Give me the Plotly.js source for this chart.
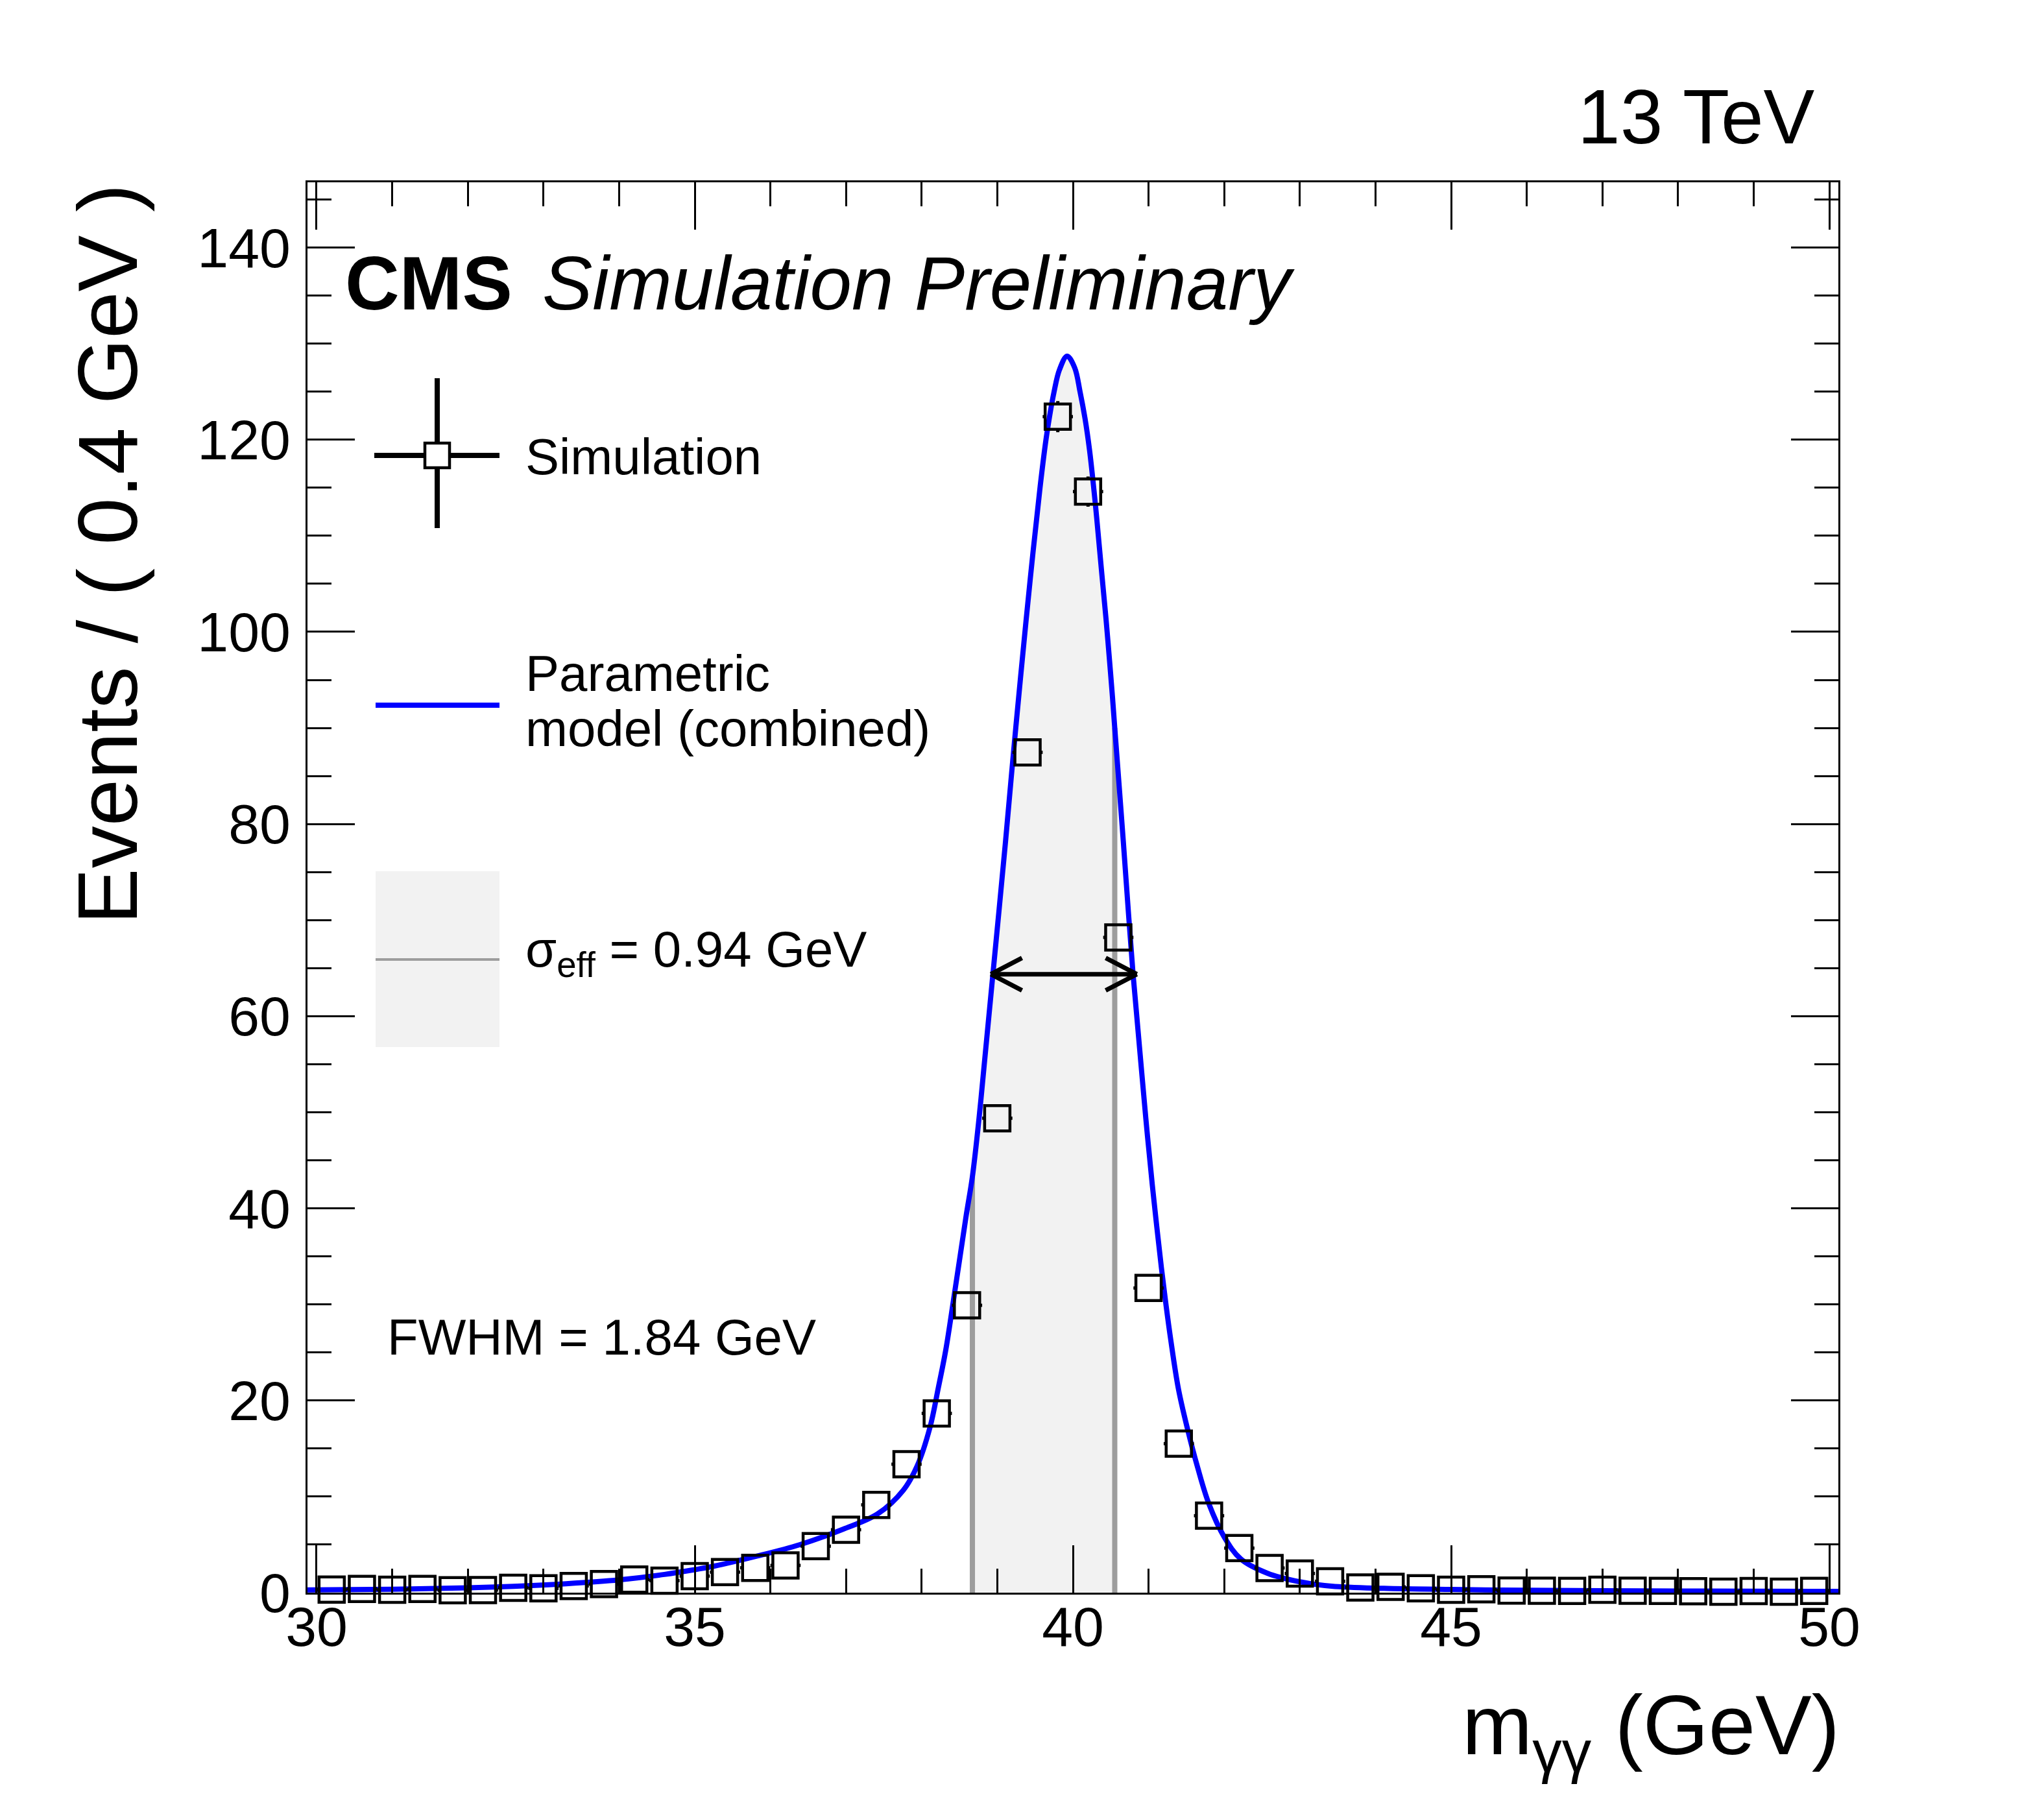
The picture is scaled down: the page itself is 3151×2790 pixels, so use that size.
<!DOCTYPE html>
<html><head><meta charset="utf-8">
<script src="https://cdn.plot.ly/plotly-3.0.1.min.js"></script>
<style>html,body{margin:0;padding:0;background:#fff}</style>
</head><body><div id="chart" style="width:3151px;height:2790px"></div>
<script>
// ---------------- data ----------------
const binCenters = [30.2,30.6,31.0,31.4,31.8,32.2,32.6,33.0,33.4,33.8,
  34.2,34.6,35.0,35.4,35.8,36.2,36.6,37.0,37.4,37.8,
  38.2,38.6,39.0,39.4,39.8,40.2,40.6,41.0,41.4,41.8,
  42.2,42.6,43.0,43.4,43.8,44.2,44.6,45.0,45.4,45.8,
  46.2,46.6,47.0,47.4,47.8,48.2,48.6,49.0,49.4,49.8];
const simEvents = [0.32,0.39,0.30,0.39,0.25,0.27,0.50,0.45,0.70,0.89,
  1.36,1.25,1.73,2.14,2.59,2.84,4.84,6.55,9.14,13.37,
  18.66,29.91,49.38,87.46,122.4,114.6,68.2,31.71,15.51,8.01,
  4.64,2.57,2.0,1.19,0.54,0.6,0.45,0.3,0.35,0.22,
  0.2,0.18,0.3,0.2,0.18,0.15,0.1,0.17,0.1,0.19];
const simErrors = [0.08,0.09,0.08,0.09,0.07,0.08,0.10,0.10,0.12,0.14,
  0.17,0.16,0.19,0.21,0.24,0.25,0.32,0.37,0.44,0.53,
  0.63,0.80,1.03,1.37,1.62,1.57,1.21,0.82,0.58,0.41,
  0.32,0.23,0.21,0.16,0.11,0.11,0.10,0.08,0.09,0.07,
  0.07,0.06,0.08,0.07,0.06,0.06,0.05,0.06,0.05,0.06];
const binHalfWidth = 0.2;

const modelMass = [29.88,31.0,32.0,32.6,33.3,34.0,34.6,35.0,35.25,35.82,
  36.39,36.96,37.42,37.76,37.94,38.11,38.22,38.32,38.42,
  38.51,38.59,38.671,38.759,38.828,38.942,39.108,39.208,
  39.308,39.437,39.565,39.651,39.751,39.823,39.923,40.023,
  40.094,40.16,40.22,40.28,40.315,40.38,40.437,40.48,40.523,40.553,40.609,
  40.666,40.795,40.909,40.98,41.05,41.11,41.17,41.23,41.29,41.395,
  41.51,41.65,41.795,42.0,42.22,42.57,43.0,43.42,44.11,45.0,
  46.0,47.0,48.0,49.0,50.12];
const modelEvents = [0.28,0.36,0.5,0.66,0.93,1.33,1.9,2.4,2.75,3.8,
  5.0,6.6,8.21,10.69,13.17,17.2,21.3,25.3,30.4,
  35.1,39.3,43.3,49.4,55.0,64.37,78.1,86.9,
  95.3,105.6,115.0,120.4,125.0,127.3,128.7,127.5,
  125.0,122.2,118.9,114.6,111.8,106.2,101.4,97.4,93.2,90.0,84.2,
  78.2,64.4,54.2,48.0,42.4,38.0,33.8,30.0,26.5,21.2,
  17.2,13.0,9.3,5.8,3.5,2.03,1.13,0.68,0.45,0.33,
  0.25,0.2,0.17,0.15,0.13];

const sigmaEffRange = [38.671, 40.553];
const fwhmRange = [38.915, 40.845];
const fwhmHalfMax = 64.37;

const xTickStep = 5, xMinorStep = 1, yTickStep = 20, yMinorStep = 5;
const legendLabels = ["Simulation", "Parametric", "model (combined)", "σ<sub>eff</sub> = 0.94 GeV"];
const fwhmLabel = "FWHM = 1.84 GeV";

// ---------------- layout geometry ----------------
const FW = 3151, FH = 2790;
const L = 474, T = 281, R = 2834, B = 2455;
const W = R - L, H = B - T;
const xRange = [29.88, 50.12];
const yRange = [0, 146.79];
const pxPerX = W / (xRange[1] - xRange[0]);
const pxPerY = H / (yRange[1] - yRange[0]);
const px = x => (x - L) / W;
const py = y => (B - y) / H;
const FONT = "Liberation Sans, Arial, Helvetica, sans-serif";

// ---------------- traces ----------------
const bandX = [], bandY = [];
modelMass.forEach((m, i) => { if (m >= sigmaEffRange[0] && m <= sigmaEffRange[1]) { bandX.push(m); bandY.push(modelEvents[i]); } });
const yAtLo = modelEvents[modelMass.indexOf(sigmaEffRange[0])];
const yAtHi = modelEvents[modelMass.indexOf(sigmaEffRange[1])];

const bandTrace = { x: bandX, y: bandY, type: 'scatter', mode: 'lines', fill: 'tozeroy',
  fillcolor: '#f2f2f2', line: { width: 0, shape: 'spline', smoothing: 1 }, hoverinfo: 'skip', showlegend: false };
const edgeTrace = { x: [sigmaEffRange[0], sigmaEffRange[0], null, sigmaEffRange[1], sigmaEffRange[1]],
  y: [0, yAtLo, null, 0, yAtHi], type: 'scatter', mode: 'lines',
  line: { color: '#9d9d9d', width: 8 }, showlegend: false, hoverinfo: 'skip' };
const curveTrace = { x: modelMass, y: modelEvents, type: 'scatter', mode: 'lines',
  line: { color: '#0000ff', width: 8, shape: 'spline', smoothing: 1 }, cliponaxis: false, showlegend: false };

// error tabs outside the open markers
const MS = 39, MLW = 4.5;
const gapX = (MS / 2) / pxPerX, gapY = (MS / 2) / pxPerY;
const tabX = [], tabY = [];
binCenters.forEach((c, i) => {
  const v = simEvents[i], e = simErrors[i];
  tabX.push(c - binHalfWidth, c - gapX, null, c + gapX, c + binHalfWidth, null);
  tabY.push(v, v, null, v, v, null);
  if (e > gapY) {
    tabX.push(c, c, null, c, c, null);
    tabY.push(v + gapY, v + e, null, v - gapY, v - e, null);
  }
});
const tabTrace = { x: tabX, y: tabY, type: 'scatter', mode: 'lines', line: { color: '#000', width: 5 },
  cliponaxis: false, showlegend: false, hoverinfo: 'skip' };
const pointTrace = { x: binCenters, y: simEvents, type: 'scatter', mode: 'markers', cliponaxis: false,
  marker: { symbol: 'square-open', size: MS, color: '#000', line: { width: MLW, color: '#000' } }, showlegend: false };

// ---------------- shapes ----------------
const shapes = [];
// FWHM arrow
shapes.push({ type: 'line', xref: 'x', yref: 'y', x0: fwhmRange[0], x1: fwhmRange[1], y0: fwhmHalfMax, y1: fwhmHalfMax,
  line: { color: '#000', width: 7 } });
[[fwhmRange[0], 1], [fwhmRange[1], -1]].forEach(([tip, dir]) => {
  [25, -25].forEach(dy => shapes.push({ type: 'line', xref: 'x', yref: 'y', xsizemode: 'pixel', ysizemode: 'pixel',
    xanchor: tip, yanchor: fwhmHalfMax, x0: 0, y0: 0, x1: dir * 48, y1: dy, line: { color: '#000', width: 7 } }));
});
// legend: simulation cross + open square
shapes.push({ type: 'line', xref: 'paper', yref: 'paper', x0: px(577), x1: px(770), y0: py(702), y1: py(702), line: { color: '#000', width: 8 } });
shapes.push({ type: 'line', xref: 'paper', yref: 'paper', x0: px(674), x1: px(674), y0: py(583), y1: py(814), line: { color: '#000', width: 8 } });
shapes.push({ type: 'rect', xref: 'paper', yref: 'paper', x0: px(655), x1: px(693), y0: py(683), y1: py(721), fillcolor: '#fff', line: { color: '#000', width: 4.5 } });
// legend: model line
shapes.push({ type: 'line', xref: 'paper', yref: 'paper', x0: px(579), x1: px(770), y0: py(1087), y1: py(1087), line: { color: '#0000ff', width: 8 } });
// legend: sigma_eff box
shapes.push({ type: 'rect', xref: 'paper', yref: 'paper', x0: px(579), x1: px(770), y0: py(1343), y1: py(1614), fillcolor: '#f2f2f2', line: { width: 0 } });
shapes.push({ type: 'line', xref: 'paper', yref: 'paper', x0: px(579), x1: px(770), y0: py(1479), y1: py(1479), line: { color: '#9d9d9d', width: 4 } });

// ---------------- annotations ----------------
const ann = (text, x, y, size, xa, ya, extra) => Object.assign({ text, x: px(x), y: py(y), xref: 'paper', yref: 'paper',
  xanchor: xa, yanchor: ya, showarrow: false, font: { family: FONT, size, color: '#000' } }, extra || {});
const annotations = [
  ann('<b>CMS</b>', 530, 437, 116, 'left', 'middle'),
  ann('<i>Simulation Preliminary</i>', 834, 437, 116, 'left', 'middle'),
  ann('13 TeV', 2800, 180, 118, 'right', 'middle'),
  ann(legendLabels[0], 808, 704, 78, 'left', 'middle'),
  ann(legendLabels[1], 808, 1038, 78, 'left', 'middle'),
  ann(legendLabels[2], 808, 1123, 78, 'left', 'middle'),
  ann(legendLabels[3], 808, 1468, 78, 'left', 'middle'),
  ann(fwhmLabel, 595, 2061, 78, 'left', 'middle'),
  ann('Events / ( 0.4 GeV )', 166, 281, 130, 'center', 'top', { textangle: -90 }),
  ann('m<sub>γγ</sub> (GeV)', 2838, 2668, 130, 'right', 'middle')
];

const axisCommon = { showline: true, linewidth: 3, linecolor: '#000', mirror: 'ticks', ticks: 'inside',
  ticklen: 73, tickwidth: 3, tickcolor: '#000', showgrid: false, zeroline: false,
  tickfont: { family: FONT, size: 86, color: '#000' } };

const layout = {
  width: FW, height: FH, autosize: false,
  margin: { l: L, r: FW - R, t: T, b: FH - B, pad: 0 },
  paper_bgcolor: '#fff', plot_bgcolor: '#fff', showlegend: false,
  xaxis: Object.assign({}, axisCommon, { range: xRange, tick0: 30, dtick: xTickStep, ticklabelstandoff: -24,
    minor: { ticks: 'inside', ticklen: 37, tickwidth: 3, tickcolor: '#000', dtick: xMinorStep, showgrid: false } }),
  yaxis: Object.assign({}, axisCommon, { range: yRange, tick0: 0, dtick: yTickStep, ticklabelstandoff: 6,
    minor: { ticks: 'inside', ticklen: 37, tickwidth: 3, tickcolor: '#000', dtick: yMinorStep, showgrid: false } }),
  shapes, annotations
};

Plotly.newPlot('chart', [bandTrace, edgeTrace, curveTrace, tabTrace, pointTrace], layout, { staticPlot: true });
</script></body></html>
